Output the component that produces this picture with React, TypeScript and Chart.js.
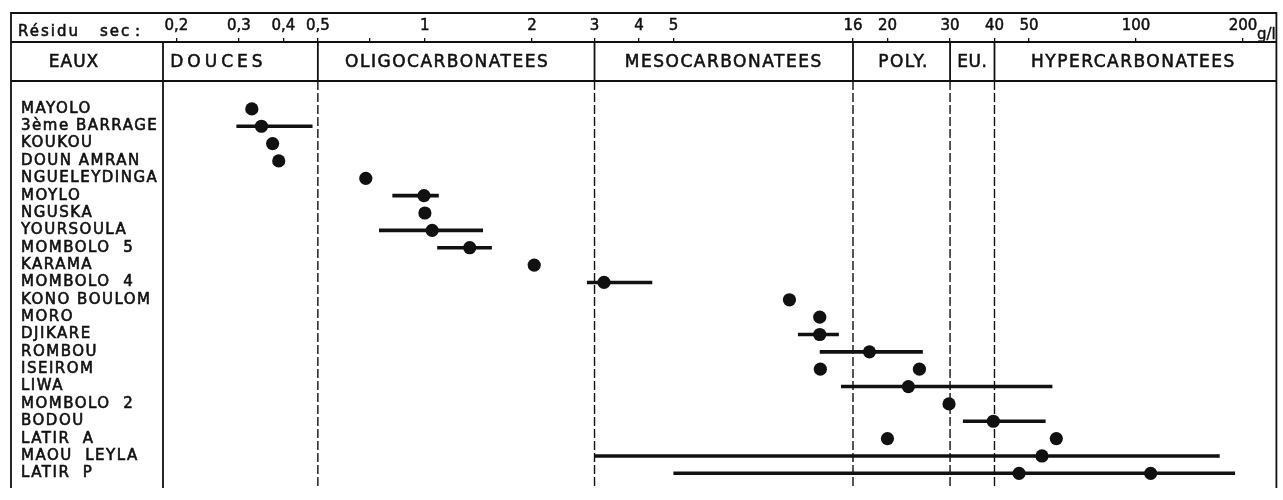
import React, { useEffect, useRef } from 'react';
import { Chart, registerables } from 'chart.js';

Chart.register(...registerables);

// Stations (rows, top to bottom)
const STATIONS = [
  'MAYOLO', '3ème BARRAGE', 'KOUKOU', 'DOUN AMRAN', 'NGUELEYDINGA', 'MOYLO', 'NGUSKA',
  'YOURSOULA', 'MOMBOLO  5', 'KARAMA', 'MOMBOLO  4', 'KONO BOULOM', 'MORO', 'DJIKARE',
  'ROMBOU', 'ISEIROM', 'LIWA', 'MOMBOLO  2', 'BODOU', 'LATIR  A', 'MAOU  LEYLA', 'LATIR  P',
];

// Measured dry residue (g/l): station index + value
const POINT_STATION = [0, 1, 2, 3, 4, 5, 6, 7, 8, 9, 10, 11, 12, 13, 14, 15, 15, 16, 17, 18, 19, 19, 20, 21, 21];
const POINT_VALUE = [
  0.326, 0.347, 0.373, 0.388, 0.682, 0.994, 1.0, 1.048, 1.337, 2.03, 3.19, 10.6, 12.9,
  12.9, 17.8, 12.95, 24.6, 22.9, 29.8, 39.7, 20.0, 59.7, 54.4, 46.9, 110,
];

// Variation ranges (g/l)
const RANGE_STATION = [1, 5, 7, 8, 10, 13, 14, 16, 18, 20, 21];
const RANGE_MIN = [0.295, 0.81, 0.743, 1.083, 2.856, 11.2, 12.9, 14.8, 32.6, 3.0, 5.0];
const RANGE_MAX = [0.483, 1.094, 1.457, 1.543, 4.36, 14.6, 25.15, 58.2, 55.7, 172, 190];

// Axis ticks
const TICK_VALUES = [0.2, 0.3, 0.4, 0.5, 0.7, 1, 2, 3, 4, 5, 16, 20, 30, 40, 50, 100, 200];
const TICK_LABELS = ['0,2', '0,3', '0,4', '0,5', '', '1', '2', '3', '4', '5', '16', '20', '30', '40', '50', '100', '200'];

// Water classes
const CLASS_LIMITS = [0.5, 3, 16, 30, 40];
const CLASS_NAMES = ['DOUCES', 'OLIGOCARBONATEES', 'MESOCARBONATEES', 'POLY.', 'EU.', 'HYPERCARBONATEES'];
const HEADER_LEFT = 'EAUX';
const AXIS_TITLE = ['Résidu', 'sec', ':'];
const UNIT = 'g/l';

const INK = '#111';
const FONT = '"DejaVu Sans", sans-serif';

function heavyText(ctx: any, text: string, x: number, y: number, w = 0.55) {
  ctx.lineWidth = w;
  ctx.strokeText(text, x, y);
  ctx.fillText(text, x, y);
}

const framePlugin = {
  id: 'frame',
  beforeDraw(chart: any) {
    (chart.ctx as any).letterSpacing = '1.5px';
  },
  beforeDatasetsDraw(chart: any) {
    const ctx = chart.ctx;
    (ctx as any).letterSpacing = '0px';
    const { top, bottom, left, right } = chart.chartArea;
    const xs = chart.scales.x;
    const L = 11;
    const T = 13;
    const catBottom = 81;
    ctx.save();
    ctx.strokeStyle = INK;
    ctx.lineWidth = 1.8;
    ctx.beginPath();
    ctx.moveTo(L, bottom);
    ctx.lineTo(L, T);
    ctx.lineTo(right, T);
    ctx.lineTo(right, bottom);
    ctx.moveTo(L, top);
    ctx.lineTo(right, top);
    ctx.moveTo(L, catBottom);
    ctx.lineTo(right, catBottom);
    ctx.moveTo(left, top);
    ctx.lineTo(left, bottom);
    const limitPx = CLASS_LIMITS.map((v) => xs.getPixelForValue(v));
    limitPx.forEach((px) => {
      ctx.moveTo(px, top);
      ctx.lineTo(px, catBottom);
    });
    ctx.stroke();

    ctx.lineWidth = 1.4;
    ctx.setLineDash([9, 3]);
    ctx.beginPath();
    limitPx.forEach((px) => {
      ctx.moveTo(px, catBottom);
      ctx.lineTo(px, bottom);
    });
    ctx.stroke();
    ctx.setLineDash([]);

    // header texts
    ctx.fillStyle = INK;
    ctx.strokeStyle = INK;
    ctx.textBaseline = 'middle';
    ctx.font = `17px ${FONT}`;
    ctx.textAlign = 'center';
    (ctx as any).letterSpacing = '1px';
    heavyText(ctx, HEADER_LEFT, 74, 63);
    const edges = [left, ...limitPx, right];
    const shifts = [-22, -9, 0, 2, 0, -2];
    const spacings = [4, 1.5, 1.5, 1.5, 0.5, 1.5];
    CLASS_NAMES.forEach((name, i) => {
      (ctx as any).letterSpacing = spacings[i] + 'px';
      heavyText(ctx, name, (edges[i] + edges[i + 1]) / 2 + shifts[i], 63);
    });

    ctx.font = `15px ${FONT}`;
    ctx.textAlign = 'left';
    (ctx as any).letterSpacing = '2px';
    heavyText(ctx, AXIS_TITLE[0], 18, 32);
    heavyText(ctx, AXIS_TITLE[1], 100, 32);
    heavyText(ctx, AXIS_TITLE[2], 135, 32);
    (ctx as any).letterSpacing = '0px';
    ctx.textBaseline = 'alphabetic';
    heavyText(ctx, UNIT, xs.getPixelForValue(200) + 14, 39, 0.4);
    ctx.restore();
  },
};

export default function App() {
  const ref = useRef<HTMLCanvasElement | null>(null);

  useEffect(() => {
    if (!ref.current) return;
    const rangeSets = RANGE_STATION.map((s, k) => ({
      type: 'line' as const,
      data: [
        { x: RANGE_MIN[k], y: s },
        { x: RANGE_MAX[k], y: s },
      ],
      borderColor: INK,
      borderWidth: 3.6,
      borderCapStyle: 'butt' as const,
      pointRadius: 0,
      showLine: true,
    }));
    const pointSet = {
      type: 'scatter' as const,
      data: POINT_STATION.map((s, k) => ({ x: POINT_VALUE[k], y: s })),
      pointRadius: 6.6,
      pointBackgroundColor: INK,
      backgroundColor: INK,
      borderWidth: 0,
      pointBorderWidth: 0,
    };

    const chart = new Chart(ref.current, {
      type: 'scatter',
      data: { datasets: [...rangeSets, pointSet] as any },
      options: {
        animation: false,
        responsive: false,
        devicePixelRatio: 1,
        layout: { padding: { left: 21, top: 0, right: 2, bottom: 0 } },
        plugins: { legend: { display: false }, tooltip: { enabled: false } },
        scales: {
          x: {
            type: 'logarithmic',
            position: 'top',
            bounds: 'data',
            min: 0.1834,
            max: 248.3,
            afterBuildTicks: (scale: any) => {
              scale.ticks = TICK_VALUES.map((v) => ({ value: v }));
            },
            afterFit: (scale: any) => {
              scale.height = 42;
            },
            grid: {
              display: true,
              drawOnChartArea: false,
              drawTicks: true,
              tickLength: 4,
              color: INK,
              lineWidth: 1.3,
            },
            border: { display: false },
            ticks: {
              z: 1,
              autoSkip: false,
              maxRotation: 0,
              padding: 3,
              color: INK,
              textStrokeColor: INK,
              textStrokeWidth: 0.5,
              font: { family: FONT, size: 15 },
              callback: (v: any) => {
                const i = TICK_VALUES.indexOf(Number(v));
                return i >= 0 ? TICK_LABELS[i] : '';
              },
            },
          },
          y: {
            type: 'linear',
            reverse: true,
            bounds: 'data',
            min: -3.855,
            max: 21.846,
            afterBuildTicks: (scale: any) => {
              scale.ticks = STATIONS.map((_, i) => ({ value: i }));
            },
            afterFit: (scale: any) => {
              scale.width = 142;
            },
            grid: { display: false },
            border: { display: false },
            ticks: {
              autoSkip: false,
              crossAlign: 'far',
              color: INK,
              textStrokeColor: INK,
              textStrokeWidth: 0.6,
              font: { family: FONT, size: 15 },
              callback: (v: any) => STATIONS[Number(v)] ?? '',
            },
          },
        },
      },
      plugins: [framePlugin],
    } as any);
    return () => chart.destroy();
  }, []);

  return (
    <div style={{ position: 'absolute', left: 0, top: 0, width: 1283, height: 500, background: '#fff' }}>
      <canvas ref={ref} width={1283} height={500} style={{ display: 'block' }} />
    </div>
  );
}
